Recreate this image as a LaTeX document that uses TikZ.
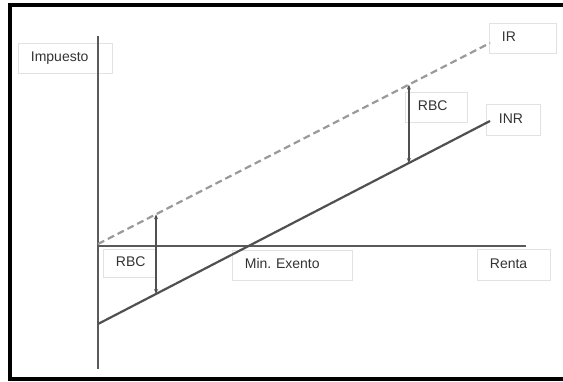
\documentclass[tikz,border=0pt]{standalone}
\usepackage{fontspec}
\setmainfont{Liberation Sans}
\usetikzlibrary{calc,arrows.meta}
\definecolor{txtc}{HTML}{333333}
\definecolor{axisc}{HTML}{5A5A5A}
\definecolor{solidc}{HTML}{505050}
\definecolor{dashc}{HTML}{9A9A9A}
\definecolor{boxc}{HTML}{E2E2E2}
\begin{document}
\frenchspacing
\begin{tikzpicture}[x=1pt,y=-1pt,
  lbl/.style={draw=boxc, line width=0.8pt, anchor=north west, inner xsep=12.5pt, inner ysep=0pt,
    align=left, text=txtc, font=\fontsize{14}{16}\selectfont, text height=10pt, text depth=3pt},
  axisline/.style={draw=axisc, line width=1.8pt},
  inrline/.style={draw=solidc, line width=2.2pt},
  irline/.style={draw=dashc, line width=2.2pt, dash pattern=on 7pt off 4pt},
  rbcarrow/.style={draw=solidc, line width=1.3pt, {Stealth[length=5pt,width=4pt]}-{Stealth[length=5pt,width=4pt]}},
  frame/.style={draw=black, line width=4pt}]
\useasboundingbox (0,0) rectangle (563,381);
% label boxes
\node[lbl, minimum width=94pt, minimum height=30pt, text width=69pt] (imp) at (18,43) {Impuesto};
\node[lbl, minimum width=67pt, minimum height=30pt, text width=42pt] (ir) at (489,23) {IR};
\node[lbl, minimum width=62pt, minimum height=30pt, text width=37pt] (rbcR) at (405,92) {RBC};
\node[lbl, minimum width=54pt, minimum height=31pt, text width=29pt] (inr) at (486,104) {INR};
\node[lbl, minimum width=52pt, minimum height=28pt, text width=27pt, inner xsep=11pt] (rbcL) at (103,249) {RBC};
\node[lbl, minimum width=120pt, minimum height=30pt, text width=95pt] (minx) at (232,250) {Min.\ Exento};
\node[lbl, minimum width=73pt, minimum height=31pt, text width=48pt] (renta) at (477,249) {Renta};
% coordinates
\coordinate (ytop) at (98,36);
\coordinate (ybot) at (98,369);
\coordinate (xo) at (98,246);
\coordinate (xend) at (526,246);
\coordinate (irS) at (98,244);
\coordinate (irE) at (490,43);
\coordinate (inrS) at (98,324);
\coordinate (inrE) at (490,121);
\coordinate (aLt) at ($(irS)!0.148!(irE)$);
\coordinate (aLb) at ($(inrS)!0.148!(inrE)$);
\coordinate (aRt) at ($(irS)!0.793!(irE)$);
\coordinate (aRb) at ($(inrS)!0.793!(inrE)$);
% axes
\draw[axisline] (ytop) -- (ybot);
\draw[axisline] (xo) -- (xend);
% lines
\draw[irline] (irS) -- (irE);
\draw[inrline] (inrS) -- (inrE);
% arrows
\draw[rbcarrow] (aLt) -- (aLb);
\draw[rbcarrow] (aRt) -- (aRb);
% frame
\coordinate (fTL) at (10,5);
\coordinate (fTR) at (565,5);
\coordinate (fBL) at (10,378.5);
\coordinate (fBR) at (565,378.5);
\draw[frame] (fTR) -- (fTL) -- (fBL) -- (fBR);
\end{tikzpicture}
\end{document}
